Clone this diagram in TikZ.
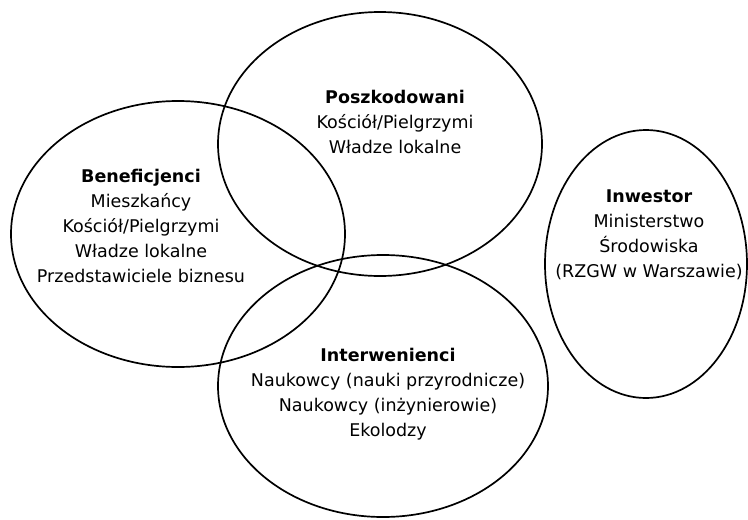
\documentclass[tikz,border=0pt]{standalone}
\usepackage{fontspec}
\setmainfont{DejaVu Sans}
\usetikzlibrary{shapes.geometric, positioning}
\tikzstyle{group} = [ellipse, draw=black, line width=1.7pt, inner sep=0pt]
\tikzstyle{members} = [align=center, inner sep=0pt, font=\fontsize{17.5}{25}\selectfont]

\begin{document}
\begin{tikzpicture}[x=1pt, y=-1pt]

\useasboundingbox (0,0) rectangle (748,520);

\node (benef) [group, minimum width=334pt, minimum height=266pt] at (178,234) {};
\node (poszk) [group, minimum width=324pt, minimum height=264pt] at (380,144) {};
\node (interw) [group, minimum width=330pt, minimum height=262pt] at (383,386) {};
\node (inwest) [group, minimum width=202pt, minimum height=268pt] at (646,264) {};

\node (benefText) [members] at (141,226) {\textbf{Beneficjenci}\\Mieszkańcy\\Kościół/Pielgrzymi\\Władze lokalne\\Przedstawiciele biznesu};
\node (poszkText) [members] at (395,122) {\textbf{Poszkodowani}\\Kościół/Pielgrzymi\\Władze lokalne};
\node (interwText) [members] at (388,394) {\textbf{Interwenienci}\\Naukowcy (nauki przyrodnicze)\\Naukowcy (inżynierowie)\\Ekolodzy};
\node (inwestText) [members] at (649,235) {\textbf{Inwestor}\\Ministerstwo\\Środowiska\\(RZGW w Warszawie)};

\end{tikzpicture}
\end{document}
